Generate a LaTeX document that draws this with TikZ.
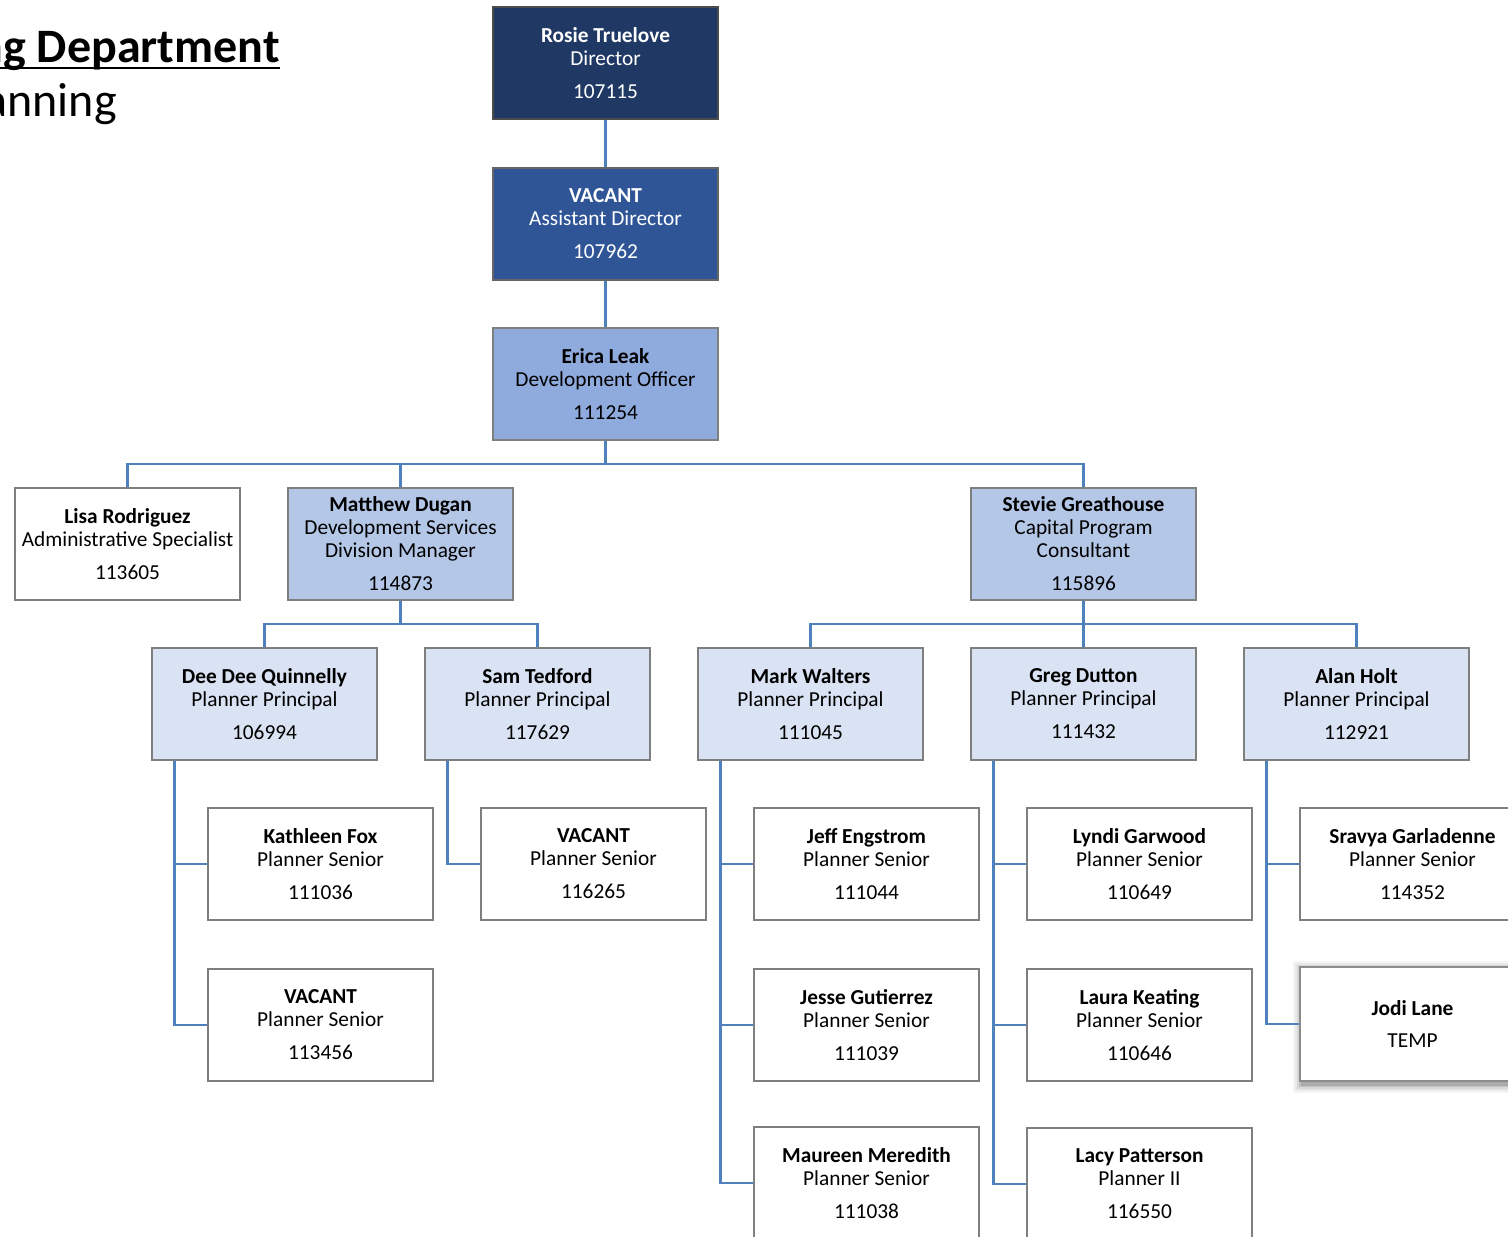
\documentclass[tikz,border=0pt]{standalone}
\usepackage{fontspec}
\setmainfont{Carlito}
\definecolor{navy}{HTML}{1F3864}
\definecolor{blueB}{HTML}{2F5597}
\definecolor{blueC}{HTML}{8FAADC}
\definecolor{blueD}{HTML}{B4C7E7}
\definecolor{blueE}{HTML}{DAE3F3}
\definecolor{connblue}{HTML}{4F81BD}
\definecolor{edgegray}{HTML}{7F7F7F}
\newcommand\orgentry[3]{\textbf{#1}\\#2\\[7.5pt]#3}
\begin{document}
\begin{tikzpicture}[x=0.75pt,y=-0.75pt,
  box/.style={draw=edgegray, line width=0.9pt, minimum width=168.75pt, minimum height=84pt,
    inner sep=0pt, align=center, font=\fontsize{16}{17.25}\selectfont, text=black},
  dark/.style={box, fill=navy, draw=black!70, text=white},
  mid/.style={box, fill=blueB, draw=black!60, text=white},
  lev3/.style={box, fill=blueC},
  lev2/.style={box, fill=blueD},
  lev1/.style={box, fill=blueE},
  plain/.style={box, fill=white},
  conn/.style={draw=connblue, line width=1.9pt}]
\useasboundingbox (0,0) rectangle (1508,1237);
\clip (0,0) rectangle (1508,1237);
\fill[white] (0,0) rectangle (1508,1237);

% title
\node[anchor=base east, inner sep=0pt, font=\fontsize{36}{40}\selectfont\bfseries] (title1) at (280,63) {ng Department};
\draw[line width=1.6pt] (0,68) -- (280,68);
\node[anchor=base east, inner sep=0pt, font=\fontsize{36}{40}\selectfont] (title2) at (117,117) {anning};

% shadow of Jodi Lane
\foreach \s/\o in {9/0.04,7/0.05,5/0.07,3/0.09,1.5/0.12}{
  \fill[black, opacity=\o] (1300-\s+2,967-\s+3) rectangle (1525+\s+2,1081+\s+3);
}

% boxes
\node[dark] (rosie) at (605.5,63) {\orgentry{Rosie Truelove}{Director}{107115}};
\node[mid] (vacad) at (605.5,224) {\orgentry{VACANT}{Assistant Director}{107962}};
\node[lev3] (erica) at (605.5,384) {\orgentry{Erica Leak}{Development Officer}{111254}};
\node[plain] (lisa) at (127.5,544) {\orgentry{Lisa Rodriguez}{Administrative Specialist}{113605}};
\node[lev2] (matthew) at (400.5,544) {\textbf{Matthew Dugan}\\Development Services\\Division Manager\\[7.5pt]114873};
\node[lev2] (stevie) at (1083.5,544) {\textbf{Stevie Greathouse}\\Capital Program\\Consultant\\[7.5pt]115896};

\node[lev1] (deedee) at (264.5,704) {\orgentry{Dee Dee Quinnelly}{Planner Principal}{106994}};
\node[lev1] (sam) at (537.5,704) {\orgentry{Sam Tedford}{Planner Principal}{117629}};
\node[lev1] (mark) at (810.5,704) {\orgentry{Mark Walters}{Planner Principal}{111045}};
\node[lev1] (greg) at (1083.5,704) {\orgentry{Greg Dutton}{Planner Principal}{111432}};
\node[lev1] (alan) at (1356.5,704) {\orgentry{Alan Holt}{Planner Principal}{112921}};

\node[plain] (kathleen) at (320.5,864) {\orgentry{Kathleen Fox}{Planner Senior}{111036}};
\node[plain] (vacps) at (593.5,864) {\orgentry{VACANT}{Planner Senior}{116265}};
\node[plain] (jeff) at (866.5,864) {\orgentry{Jeff Engstrom}{Planner Senior}{111044}};
\node[plain] (lyndi) at (1139.5,864) {\orgentry{Lyndi Garwood}{Planner Senior}{110649}};
\node[plain] (sravya) at (1412.5,864) {\orgentry{Sravya Garladenne}{Planner Senior}{114352}};

\node[plain] (vacdd) at (320.5,1025) {\orgentry{VACANT}{Planner Senior}{113456}};
\node[plain] (jesse) at (866.5,1025) {\orgentry{Jesse Gutierrez}{Planner Senior}{111039}};
\node[plain] (laura) at (1139.5,1025) {\orgentry{Laura Keating}{Planner Senior}{110646}};
\node[plain, minimum height=85.5pt, draw=black!45, line width=1.1pt] (jodi) at (1412.5,1024) {\textbf{Jodi Lane}\\[6.5pt]TEMP};

\node[plain] (maureen) at (866.5,1183) {\orgentry{Maureen Meredith}{Planner Senior}{111038}};
\node[plain] (lacy) at (1139.5,1184) {\orgentry{Lacy Patterson}{Planner II}{116550}};

% junctions
\coordinate (j1) at (605.5,464);
\coordinate (j2) at (400.5,624);
\coordinate (j3) at (1083.5,624);

% connectors
\draw[conn] (rosie.south) -- (vacad.north);
\draw[conn] (vacad.south) -- (erica.north);
\draw[conn] (erica.south) -- (j1);
\draw[conn] (lisa.north) -- (lisa.north |- j1) -- (stevie.north |- j1) -- (stevie.north);
\draw[conn] (matthew.north) -- (matthew.north |- j1);

\draw[conn] (matthew.south) -- (j2);
\draw[conn] (deedee.north) -- (deedee.north |- j2) -- (sam.north |- j2) -- (sam.north);

\draw[conn] (stevie.south) -- (j3);
\draw[conn] (mark.north) -- (mark.north |- j3) -- (alan.north |- j3) -- (alan.north);
\draw[conn] (greg.north) -- (j3);

\draw[conn] ([xshift=17.25pt]deedee.south west) |- (vacdd.west);
\draw[conn] ([xshift=17.25pt]deedee.south west) |- (kathleen.west);

\draw[conn] ([xshift=17.25pt]sam.south west) |- (vacps.west);

\draw[conn] ([xshift=17.25pt]mark.south west) |- (maureen.west);
\draw[conn] ([xshift=17.25pt]mark.south west) |- (jesse.west);
\draw[conn] ([xshift=17.25pt]mark.south west) |- (jeff.west);

\draw[conn] ([xshift=17.25pt]greg.south west) |- (lacy.west);
\draw[conn] ([xshift=17.25pt]greg.south west) |- (laura.west);
\draw[conn] ([xshift=17.25pt]greg.south west) |- (lyndi.west);

\draw[conn] ([xshift=17.25pt]alan.south west) |- (jodi.west);
\draw[conn] ([xshift=17.25pt]alan.south west) |- (sravya.west);
\end{tikzpicture}
\end{document}
